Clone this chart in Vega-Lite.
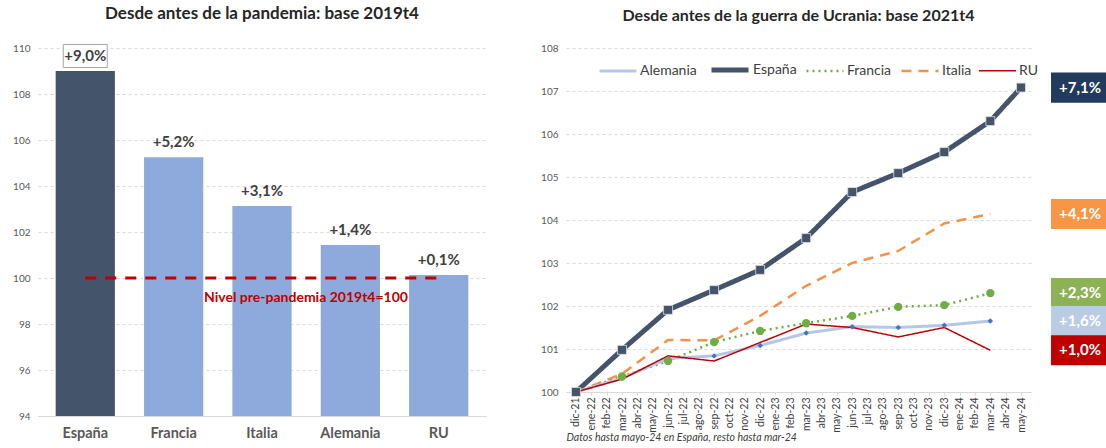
{
  "$schema": "https://vega.github.io/schema/vega-lite/v6.json",
  "background": "white",
  "padding": {"left": 12, "top": 5, "right": 0, "bottom": 0},
  "spacing": 54,
  "resolve": {
    "scale": {"color": "independent", "fill": "independent", "strokeDash": "independent", "strokeWidth": "independent"},
    "legend": {"color": "independent", "fill": "independent", "strokeDash": "independent", "strokeWidth": "independent"}
  },
  "config": {
    "font": "Lato",
    "view": {"stroke": null},
    "title": {"fontSize": 16, "fontWeight": "bold", "color": "#262626", "offset": 19, "anchor": "middle"}
  },
  "datasets": {
    "pandemia": [
      {"pais": "España", "valor": 109.0, "etiqueta": "+9,0%"},
      {"pais": "Francia", "valor": 105.25, "etiqueta": "+5,2%"},
      {"pais": "Italia", "valor": 103.13, "etiqueta": "+3,1%"},
      {"pais": "Alemania", "valor": 101.43, "etiqueta": "+1,4%"},
      {"pais": "RU", "valor": 100.13, "etiqueta": "+0,1%"}
    ],
    "evolucion": [
      {"serie": "España", "mes": "dic-21", "t": 0, "valor": 100.0},
      {"serie": "España", "mes": "mar-22", "t": 3, "valor": 100.98},
      {"serie": "España", "mes": "jun-22", "t": 6, "valor": 101.91},
      {"serie": "España", "mes": "sep-22", "t": 9, "valor": 102.37},
      {"serie": "España", "mes": "dic-22", "t": 12, "valor": 102.84},
      {"serie": "España", "mes": "mar-23", "t": 15, "valor": 103.58},
      {"serie": "España", "mes": "jun-23", "t": 18, "valor": 104.65},
      {"serie": "España", "mes": "sep-23", "t": 21, "valor": 105.09},
      {"serie": "España", "mes": "dic-23", "t": 24, "valor": 105.58},
      {"serie": "España", "mes": "mar-24", "t": 27, "valor": 106.3},
      {"serie": "España", "mes": "may-24", "t": 29, "valor": 107.08},
      {"serie": "Italia", "mes": "dic-21", "t": 0, "valor": 100.0},
      {"serie": "Italia", "mes": "mar-22", "t": 3, "valor": 100.42},
      {"serie": "Italia", "mes": "jun-22", "t": 6, "valor": 101.21},
      {"serie": "Italia", "mes": "sep-22", "t": 9, "valor": 101.2},
      {"serie": "Italia", "mes": "dic-22", "t": 12, "valor": 101.77},
      {"serie": "Italia", "mes": "mar-23", "t": 15, "valor": 102.47},
      {"serie": "Italia", "mes": "jun-23", "t": 18, "valor": 103.0},
      {"serie": "Italia", "mes": "sep-23", "t": 21, "valor": 103.28},
      {"serie": "Italia", "mes": "dic-23", "t": 24, "valor": 103.92},
      {"serie": "Italia", "mes": "mar-24", "t": 27, "valor": 104.14},
      {"serie": "Francia", "mes": "dic-21", "t": 0, "valor": 100.0},
      {"serie": "Francia", "mes": "mar-22", "t": 3, "valor": 100.36},
      {"serie": "Francia", "mes": "jun-22", "t": 6, "valor": 100.72},
      {"serie": "Francia", "mes": "sep-22", "t": 9, "valor": 101.16},
      {"serie": "Francia", "mes": "dic-22", "t": 12, "valor": 101.42},
      {"serie": "Francia", "mes": "mar-23", "t": 15, "valor": 101.6},
      {"serie": "Francia", "mes": "jun-23", "t": 18, "valor": 101.77},
      {"serie": "Francia", "mes": "sep-23", "t": 21, "valor": 101.98},
      {"serie": "Francia", "mes": "dic-23", "t": 24, "valor": 102.02},
      {"serie": "Francia", "mes": "mar-24", "t": 27, "valor": 102.3},
      {"serie": "Alemania", "mes": "dic-21", "t": 0, "valor": 100.0},
      {"serie": "Alemania", "mes": "mar-22", "t": 3, "valor": 100.32},
      {"serie": "Alemania", "mes": "jun-22", "t": 6, "valor": 100.78},
      {"serie": "Alemania", "mes": "sep-22", "t": 9, "valor": 100.84},
      {"serie": "Alemania", "mes": "dic-22", "t": 12, "valor": 101.08},
      {"serie": "Alemania", "mes": "mar-23", "t": 15, "valor": 101.37},
      {"serie": "Alemania", "mes": "jun-23", "t": 18, "valor": 101.52},
      {"serie": "Alemania", "mes": "sep-23", "t": 21, "valor": 101.5},
      {"serie": "Alemania", "mes": "dic-23", "t": 24, "valor": 101.55},
      {"serie": "Alemania", "mes": "mar-24", "t": 27, "valor": 101.65},
      {"serie": "RU", "mes": "dic-21", "t": 0, "valor": 100.0},
      {"serie": "RU", "mes": "mar-22", "t": 3, "valor": 100.3},
      {"serie": "RU", "mes": "jun-22", "t": 6, "valor": 100.84},
      {"serie": "RU", "mes": "sep-22", "t": 9, "valor": 100.72},
      {"serie": "RU", "mes": "dic-22", "t": 12, "valor": 101.15},
      {"serie": "RU", "mes": "mar-23", "t": 15, "valor": 101.58},
      {"serie": "RU", "mes": "jun-23", "t": 18, "valor": 101.5},
      {"serie": "RU", "mes": "sep-23", "t": 21, "valor": 101.28},
      {"serie": "RU", "mes": "dic-23", "t": 24, "valor": 101.5},
      {"serie": "RU", "mes": "mar-24", "t": 27, "valor": 100.97}
    ],
    "etiquetas": [
      {"serie": "España", "valor": 107.08, "etiqueta": "+7,1%"},
      {"serie": "Italia", "valor": 104.14, "etiqueta": "+4,1%"},
      {"serie": "Francia", "valor": 102.3, "etiqueta": "+2,3%"},
      {"serie": "Alemania", "valor": 101.65, "etiqueta": "+1,6%"},
      {"serie": "RU", "valor": 100.97, "etiqueta": "+1,0%"}
    ]
  },
  "hconcat": [
    {
      "width": 448,
      "height": 368,
      "title": {"text": "Desde antes de la pandemia: base 2019t4", "fontSize": 17},
      "data": {"name": "pandemia"},
      "encoding": {
        "x": {
          "field": "pais", "type": "nominal", "sort": null, "title": null,
          "scale": {"domain": ["España", "Francia", "Italia", "Alemania", "RU"], "paddingInner": 0.33, "paddingOuter": 0.2},
          "axis": {"labelAngle": 0, "labelFontSize": 14.5, "labelFontWeight": "bold", "labelColor": "#595959", "labelPadding": 10, "ticks": false, "domainColor": "#D9D9D9", "grid": false}
        }
      },
      "layer": [
        {
          "mark": {"type": "bar"},
          "encoding": {
            "y": {
              "field": "valor", "type": "quantitative", "title": null,
              "scale": {"domain": [94, 110], "zero": false, "nice": false},
              "axis": {"values": [94, 96, 98, 100, 102, 104, 106, 108, 110], "grid": true, "gridDash": [3, 3], "gridColor": "#D9D9D9", "domain": false, "ticks": false, "labelFontSize": 10, "labelColor": "#595959", "labelPadding": 8}
            },
            "y2": {"datum": 94},
            "color": {
              "field": "pais", "type": "nominal", "legend": null,
              "scale": {"domain": ["España", "Francia", "Italia", "Alemania", "RU"], "range": ["#44546A", "#8EA9DB", "#8EA9DB", "#8EA9DB", "#8EA9DB"]}
            }
          }
        },
        {
          "transform": [{"filter": "datum.pais === 'España'"}],
          "mark": {"type": "point", "shape": "M-1,-0.523H1V0.523H-1Z", "size": 1936, "filled": true, "fill": "white", "stroke": "#A6A6A6", "strokeWidth": 1, "opacity": 1, "yOffset": -15},
          "encoding": {"y": {"field": "valor", "type": "quantitative", "title": null}}
        },
        {
          "mark": {"type": "text", "dy": -15, "fontSize": 15, "fontWeight": "bold", "color": "#404040"},
          "encoding": {"y": {"field": "valor", "type": "quantitative", "title": null}, "text": {"field": "etiqueta"}}
        },
        {
          "data": {"values": [{"pais": "España", "nivel": 100}, {"pais": "RU", "nivel": 100}]},
          "mark": {"type": "line", "color": "#C00000", "strokeWidth": 3, "strokeDash": [11, 9]},
          "encoding": {"y": {"field": "nivel", "type": "quantitative", "title": null}}
        },
        {
          "data": {"values": [{"pais": "Italia", "texto": "Nivel pre-pandemia 2019t4=100"}]},
          "mark": {"type": "text", "color": "#C00000", "fontWeight": "bold", "fontSize": 14, "dx": 44},
          "encoding": {"y": {"datum": 99.13}, "text": {"field": "texto"}}
        }
      ]
    },
    {
      "width": 465,
      "height": 344,
      "title": {"text": "Desde antes de la guerra de Ucrania: base 2021t4"},
      "encoding": {
        "x": {
          "field": "mes", "type": "ordinal",
          "title": "Datos hasta mayo-24 en España, resto hasta mar-24",
          "scale": {"type": "point", "padding": 0.65, "domain": ["dic-21", "ene-22", "feb-22", "mar-22", "abr-22", "may-22", "jun-22", "jul-22", "ago-22", "sep-22", "oct-22", "nov-22", "dic-22", "ene-23", "feb-23", "mar-23", "abr-23", "may-23", "jun-23", "jul-23", "ago-23", "sep-23", "oct-23", "nov-23", "dic-23", "ene-24", "feb-24", "mar-24", "abr-24", "may-24"]},
          "axis": {"labelAngle": 270, "labelFontSize": 10.5, "labelColor": "#404040", "ticks": true, "tickSize": 3, "tickColor": "#D9D9D9", "domainColor": "#D9D9D9", "grid": false, "labelPadding": 2, "titleFontStyle": "italic", "titleFontWeight": "normal", "titleFontSize": 10.5, "titleColor": "#404040", "titleAnchor": "start", "titleAlign": "left", "titlePadding": 0}
        },
        "y": {
          "field": "valor", "type": "quantitative", "title": null,
          "scale": {"domain": [100, 108], "zero": false, "nice": false},
          "axis": {"values": [100, 101, 102, 103, 104, 105, 106, 107, 108], "grid": true, "gridDash": [3, 3], "gridColor": "#D9D9D9", "domain": false, "ticks": false, "labelFontSize": 10, "labelColor": "#595959", "labelPadding": 8}
        }
      },
      "layer": [
        {
          "data": {"name": "evolucion"},
          "mark": {"type": "line"},
          "encoding": {
            "order": {"field": "t", "type": "quantitative"},
            "color": {
              "field": "serie", "type": "nominal", "title": null,
              "scale": {"domain": ["Alemania", "España", "Francia", "Italia", "RU"], "range": ["#B4C7E7", "#44546A", "#70AD47", "#F4914A", "#C00000"]},
              "legend": {"orient": "none", "legendX": 32, "legendY": 1, "direction": "horizontal", "symbolType": "stroke", "symbolSize": 1369, "labelFontSize": 14, "labelColor": "#404040", "columnPadding": 4, "labelOffset": 2}
            },
            "strokeDash": {
              "field": "serie", "type": "nominal", "title": null,
              "scale": {"domain": ["Alemania", "España", "Francia", "Italia", "RU"], "range": [[1, 0], [1, 0], [2, 4], [10, 7], [1, 0]]}
            },
            "strokeWidth": {
              "field": "serie", "type": "nominal", "title": null,
              "scale": {"type": "ordinal", "domain": ["Alemania", "España", "Francia", "Italia", "RU"], "range": [3, 5, 2.5, 2.5, 1.5]}
            }
          }
        },
        {
          "data": {"name": "evolucion"},
          "transform": [{"filter": "datum.serie === 'Alemania'"}],
          "mark": {"type": "point", "shape": "diamond", "filled": true, "color": "#4472C4", "size": 30, "opacity": 1}
        },
        {
          "data": {"name": "evolucion"},
          "transform": [{"filter": "datum.serie === 'Francia'"}],
          "mark": {"type": "point", "shape": "circle", "filled": true, "color": "#70AD47", "size": 70, "opacity": 1}
        },
        {
          "data": {"name": "evolucion"},
          "transform": [{"filter": "datum.serie === 'España'"}],
          "mark": {"type": "point", "shape": "square", "filled": true, "color": "#44546A", "size": 80, "opacity": 1, "stroke": "#DDE2EA", "strokeWidth": 0.8}
        },
        {
          "data": {"name": "etiquetas"},
          "mark": {"type": "point", "shape": "M-1,-0.52H1V0.52H-1Z", "size": 3364, "filled": true, "opacity": 1, "xOffset": 59},
          "encoding": {
            "x": {"datum": "may-24"},
            "fill": {
              "field": "serie", "type": "nominal", "legend": null,
              "scale": {"domain": ["Alemania", "España", "Francia", "Italia", "RU"], "range": ["#B8CCE4", "#223A5E", "#8DB255", "#F79646", "#C00000"]}
            }
          }
        },
        {
          "data": {"name": "etiquetas"},
          "mark": {"type": "text", "dx": 59, "fontSize": 15, "fontWeight": "bold", "color": "white"},
          "encoding": {"x": {"datum": "may-24"}, "text": {"field": "etiqueta"}}
        }
      ]
    }
  ]
}
